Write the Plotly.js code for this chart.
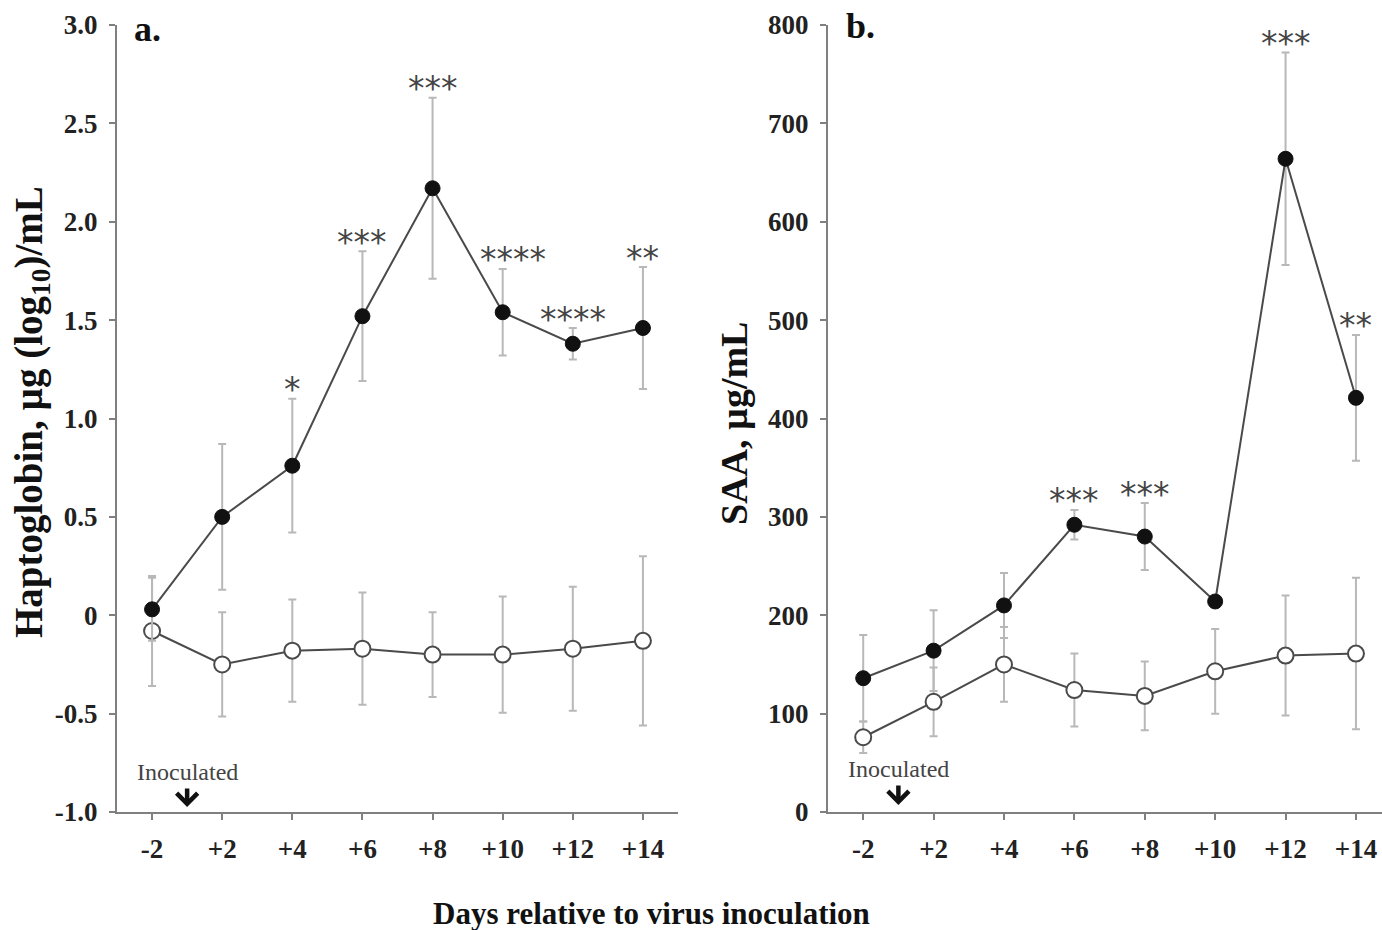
<!DOCTYPE html>
<html>
<head>
<meta charset="utf-8">
<script src="https://cdn.plot.ly/plotly-3.0.1.min.js"></script>
<style>html,body{margin:0;padding:0;background:#fff;overflow:hidden}</style>
</head>
<body>
<div id="chart" style="width:1382px;height:930px"></div>
<script>
// ---- data ----
const days = ["-2", "+2", "+4", "+6", "+8", "+10", "+12", "+14"];

// Panel a: Haptoglobin, µg (log10)/mL
const hapInfected    = [0.03, 0.50, 0.76, 1.52, 2.17, 1.54, 1.38, 1.46];
const hapInfectedErr = [0.16, 0.37, 0.34, 0.33, 0.46, 0.22, 0.08, 0.31];
const hapControl     = [-0.08, -0.25, -0.18, -0.17, -0.20, -0.20, -0.17, -0.13];
const hapControlErr  = [0.28, 0.265, 0.26, 0.285, 0.215, 0.295, 0.315, 0.43];
const hapSig         = ["", "", "*", "***", "***", "****", "****", "**"];

// Panel b: SAA, µg/mL
const saaInfected    = [136, 164, 210, 292, 280, 214, 664, 421];
const saaInfectedErr = [44, 41, 33, 15, 34, 4, 108, 64];
const saaControl     = [76, 112, 150, 124, 118, 143, 159, 161];
const saaControlErr  = [16, 35, 38, 37, 35, 43, 61, 77];
const saaSig         = ["", "", "", "***", "***", "", "***", "**"];

const hapTickVals = [-1, -0.5, 0, 0.5, 1, 1.5, 2, 2.5, 3];
const hapTickText = ["-1.0", "-0.5", "0", "0.5", "1.0", "1.5", "2.0", "2.5", "3.0"];
const saaTickVals = [0, 100, 200, 300, 400, 500, 600, 700, 800];

const panelLabels = ["a.", "b."];
const yTitles = ["Haptoglobin, µg (log<sub>10</sub>)/mL", "SAA, µg/mL"];
const xTitle = "Days relative to virus inoculation";
const inocText = "Inoculated";

// ---- styles ----
const W = 1382, H = 930;
const serif = "Liberation Serif, Times New Roman, serif";
const lineCol = "#4a4a4a";
const errCol = "#b8b8b8";
const axisCol = "#808080";

function traces(xa, ya, ctrl, ctrlErr, inf, infErr) {
  const common = {x: days, xaxis: xa, yaxis: ya, type: "scatter", mode: "lines+markers",
                  line: {color: lineCol, width: 2}, showlegend: false, hoverinfo: "skip"};
  return [
    Object.assign({}, common, {
      y: ctrl,
      error_y: {type: "data", array: ctrlErr, visible: true, color: errCol, thickness: 2, width: 4},
      marker: {symbol: "circle", size: 16, color: "#ffffff", line: {color: "#4a4a4a", width: 2}}
    }),
    Object.assign({}, common, {
      y: inf,
      error_y: {type: "data", array: infErr, visible: true, color: errCol, thickness: 2, width: 4},
      marker: {symbol: "circle", size: 15, color: "#111111", line: {color: "#111111", width: 1}}
    })
  ];
}

const data = [].concat(
  traces("x", "y", hapControl, hapControlErr, hapInfected, hapInfectedErr),
  traces("x2", "y2", saaControl, saaControlErr, saaInfected, saaInfectedErr)
);

const yDom = [1 - 812 / H, 1 - 25 / H];
const tickFont = {family: serif, size: 27, color: "#222", weight: "bold"};
function xAxis(dom, range, anchor) {
  return {domain: dom, anchor: anchor, type: "category", categoryarray: days, range: range,
          showline: true, linecolor: axisCol, linewidth: 2, ticks: "outside", ticklen: 6,
          tickwidth: 2, tickcolor: axisCol, tickfont: tickFont, showgrid: false, zeroline: false,
          ticklabelstandoff: 6, fixedrange: true};
}
function yAxis(range, tv, tt, anchor) {
  return {domain: yDom, anchor: anchor, range: range, tickvals: tv, ticktext: tt,
          showline: true, linecolor: axisCol, linewidth: 2, ticks: "outside", ticklen: 6,
          tickwidth: 2, tickcolor: axisCol, tickfont: tickFont, showgrid: false, zeroline: false,
          ticklabelstandoff: 6, fixedrange: true};
}

const annotations = [];
// significance stars (x given as category index)
function addStars(sig, mean, err, xref, yref) {
  sig.forEach((s, i) => {
    if (!s) return;
    annotations.push({xref: xref, yref: yref, x: i, y: mean[i] + err[i], text: s,
      showarrow: false, xanchor: "center", yanchor: "middle", yshift: 9,
      xshift: (xref === "x" && i === 5) ? 10 : 0,
      font: {family: "DejaVu Sans", size: 33, color: "#444"}});
  });
}
addStars(hapSig, hapInfected, hapInfectedErr, "x", "y");
addStars(saaSig, saaInfected, saaInfectedErr, "x2", "y2");

// panel labels
annotations.push({xref: "paper", yref: "paper", x: 132 / W, y: 1 - 29 / H, text: panelLabels[0],
  showarrow: false, xanchor: "left", yanchor: "middle", font: {family: serif, size: 36, color: "#111", weight: "bold"}});
annotations.push({xref: "paper", yref: "paper", x: 844 / W, y: 1 - 26 / H, text: panelLabels[1],
  showarrow: false, xanchor: "left", yanchor: "middle", font: {family: serif, size: 36, color: "#111", weight: "bold"}});

// y titles
annotations.push({xref: "paper", yref: "paper", x: 31 / W, y: 1 - 412 / H, text: yTitles[0], textangle: -90,
  showarrow: false, xanchor: "center", yanchor: "middle", font: {family: serif, size: 39, color: "#111", weight: "bold"}});
annotations.push({xref: "paper", yref: "paper", x: 734 / W, y: 1 - 423 / H, text: yTitles[1], textangle: -90,
  showarrow: false, xanchor: "center", yanchor: "middle", font: {family: serif, size: 38, color: "#111", weight: "bold"}});

// x title
annotations.push({xref: "paper", yref: "paper", x: 651 / W, y: 1 - 913 / H, text: xTitle,
  showarrow: false, xanchor: "center", yanchor: "middle", font: {family: serif, size: 31, color: "#111", weight: "bold"}});

// inoculated labels with arrows (arrow tip at day 0, between -2 and +2)
annotations.push({xref: "x", yref: "paper", x: 0.5, y: 1 - 807 / H, text: inocText,
  showarrow: true, ax: 0, ay: -35, arrowhead: 4, arrowsize: 0.9, arrowwidth: 4.5, arrowcolor: "#111",
  standoff: 0, startstandoff: 2,
  font: {family: serif, size: 24, color: "#444"}});
annotations.push({xref: "x2", yref: "paper", x: 0.5, y: 1 - 805 / H, text: inocText,
  showarrow: true, ax: 0, ay: -36, arrowhead: 4, arrowsize: 0.9, arrowwidth: 4.5, arrowcolor: "#111",
  standoff: 0, startstandoff: 2,
  font: {family: serif, size: 24, color: "#444"}});

const layout = {
  width: W, height: H,
  margin: {l: 0, r: 0, t: 0, b: 0},
  paper_bgcolor: "#ffffff", plot_bgcolor: "#ffffff",
  showlegend: false,
  xaxis: xAxis([117 / W, 678 / W], [-0.5, 7.5], "y"),
  yaxis: yAxis([-1, 3], hapTickVals, hapTickText, "x"),
  xaxis2: xAxis([828 / W, 1], [-0.5, 7.37], "y2"),
  yaxis2: yAxis([0, 800], saaTickVals, saaTickVals.map(String), "x2"),
  annotations: annotations
};

Plotly.newPlot("chart", data, layout, {displayModeBar: false, staticPlot: true});
</script>
</body>
</html>
